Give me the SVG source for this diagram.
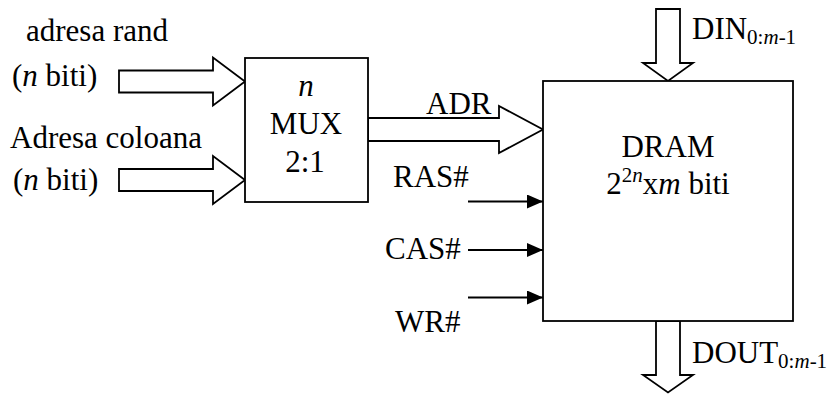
<svg xmlns="http://www.w3.org/2000/svg" width="833" height="394" viewBox="0 0 833 394" font-family="Liberation Serif, Tinos, DejaVu Serif, serif">
<defs>
<style>
text{font-family:'Liberation Serif',Tinos,'DejaVu Serif',serif;font-size:31px;fill:#000}
.b{fill:#fff;stroke:#000;stroke-width:1.8}
.bus{fill:#fff;stroke:#000;stroke-width:1.8;stroke-linejoin:miter}
.ln{stroke:#000;stroke-width:1.8;fill:none}
.i{font-style:italic}
.s{font-size:21px}
</style>
<marker id="ah" markerUnits="userSpaceOnUse" markerWidth="16" markerHeight="14" refX="16" refY="7" orient="auto">
<path d="M0,0 L16,7 L0,14 Z" fill="#000"/>
</marker>
</defs>
<g id="connectors">
<polygon class="bus" points="119,70.5 213,70.5 213,57.5 245,81.5 213,105.5 213,92.5 119,92.5"/>
<polygon class="bus" points="119,169 213,169 213,156 245,180 213,204 213,191 119,191"/>
<polygon class="bus" points="368,118 499,118 499,106 543,129.5 499,153 499,141 368,141"/>
<polygon class="bus" points="656,9 680,9 680,63 693,63 668,81 643,63 656,63"/>
<polygon class="bus" points="656,321 680,321 680,375 693,375 668,392.5 643,375 656,375"/>
<line class="ln" x1="468" y1="201.5" x2="543" y2="201.5" marker-end="url(#ah)"/>
<line class="ln" x1="468" y1="250" x2="543" y2="250" marker-end="url(#ah)"/>
<line class="ln" x1="468" y1="297.5" x2="543" y2="297.5" marker-end="url(#ah)"/>
</g>
<g id="mux">
<rect class="b" x="245" y="58" width="123" height="144"/>
<text x="306" y="96" text-anchor="middle" class="i">n</text>
<text x="306" y="134" text-anchor="middle">MUX</text>
<text x="305" y="172" text-anchor="middle">2:1</text>
</g>
<g id="dram">
<rect class="b" x="543" y="81" width="250" height="240"/>
<text x="668" y="157" text-anchor="middle">DRAM</text>
<text x="668" y="194" text-anchor="middle">2<tspan class="s" dy="-12">2</tspan><tspan class="s i">n</tspan><tspan dy="12">x</tspan><tspan class="i">m</tspan> biti</text>
</g>
<g id="labels">
<text x="26" y="41">adresa rand</text>
<text x="12" y="86">(<tspan class="i">n</tspan> biti)</text>
<text x="10" y="148">Adresa coloana</text>
<text x="13" y="190">(<tspan class="i">n</tspan> biti)</text>
<text x="426" y="114">ADR</text>
<text x="393" y="187">RAS#</text>
<text x="385" y="259">CAS#</text>
<text x="395" y="332">WR#</text>
<text x="692" y="39">DIN<tspan class="s" dy="5">0:</tspan><tspan class="s i">m</tspan><tspan class="s">-1</tspan></text>
<text x="692" y="363">DOUT<tspan class="s" dy="5">0:</tspan><tspan class="s i">m</tspan><tspan class="s">-1</tspan></text>
</g>
</svg>
